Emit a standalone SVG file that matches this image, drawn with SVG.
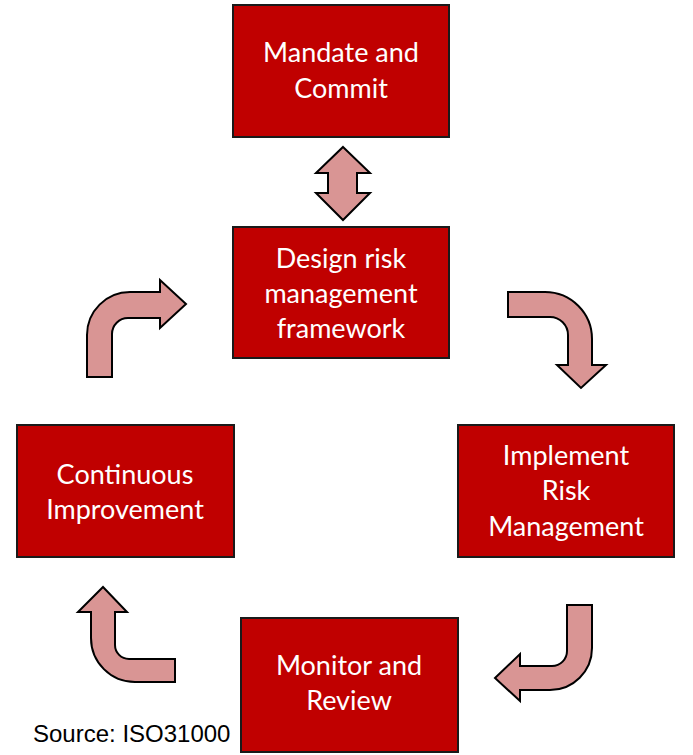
<svg xmlns="http://www.w3.org/2000/svg" width="693" height="755" viewBox="0 0 693 755">
<style>
.box{fill:#C00000;stroke:#1a1a1a;stroke-width:2}
.lbl{font-family:Lato,"Liberation Sans",sans-serif;font-size:27px;fill:#fff;text-anchor:middle}
.arr{fill:#D99594;stroke:#000;stroke-width:2;stroke-linejoin:miter}
.src{font-family:"Liberation Sans",Arial,sans-serif;font-size:24px;fill:#000}
</style>
<rect width="693" height="755" fill="#fff"/>
<g id="mandate"><rect class="box" x="233" y="5" width="216" height="132"/><text class="lbl" x="341" y="62">Mandate and</text><text class="lbl" x="341" y="98">Commit</text></g>
<g id="design"><rect class="box" x="233" y="227" width="216" height="131"/><text class="lbl" x="341" y="268">Design risk</text><text class="lbl" x="341" y="303">management</text><text class="lbl" x="341" y="338">framework</text></g>
<g id="continuous"><rect class="box" x="17" y="425" width="217" height="132"/><text class="lbl" x="125" y="484">Continuous</text><text class="lbl" x="125" y="519">Improvement</text></g>
<g id="implement"><rect class="box" x="458" y="425" width="216" height="132"/><text class="lbl" x="566" y="465">Implement</text><text class="lbl" x="566" y="500">Risk</text><text class="lbl" x="566" y="536">Management</text></g>
<g id="monitor"><rect class="box" x="241" y="618" width="217" height="134"/><text class="lbl" x="349" y="675">Monitor and</text><text class="lbl" x="349" y="710">Review</text></g>
<g id="connectors">
<polygon class="arr" points="343,147 370,173 357,173 357,193 370,193 343,220 316,193 328,193 328,173 316,173"/>
<path class="arr" d="M87,377 L87,335 A43,43 0 0 1 130,292 L160,292 L160,280 L186,304 L160,328 L160,318 L128,318 A16,16 0 0 0 112,334 L112,377 Z"/>
<path class="arr" d="M508,292 L545,292 A47,47 0 0 1 592,339 L592,365 L606,365 L581,388 L557,365 L568,365 L568,335 A18,18 0 0 0 550,317 L508,317 Z"/>
<path class="arr" d="M567,605 L592,605 L592,648 A42,42 0 0 1 550,690 L520,690 L520,701 L495,678 L520,654 L520,666 L552,666 A15,15 0 0 0 567,651 Z"/>
<path class="arr" d="M175,682 L135,682 A44,44 0 0 1 91,638 L91,612 L78,612 L103,587 L127,612 L115,612 L115,645 A14,14 0 0 0 129,659 L175,659 Z"/>
</g>
<text class="src" x="33" y="742">Source: ISO31000</text>
</svg>
